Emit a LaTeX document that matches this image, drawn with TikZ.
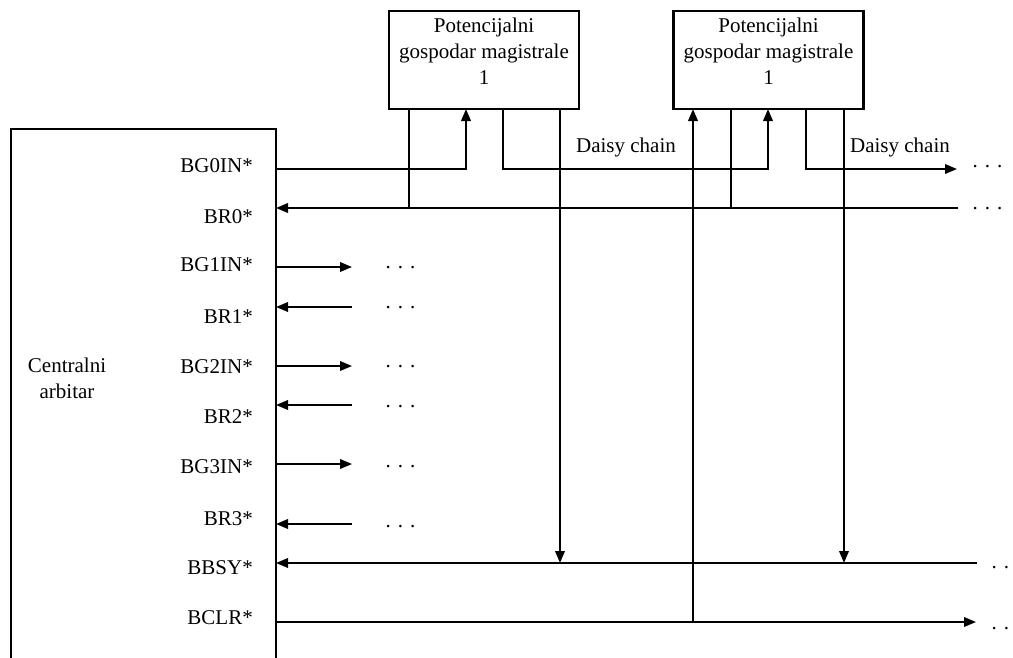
\documentclass[tikz,border=0pt]{standalone}
\usepackage{fontspec}
\setmainfont{Liberation Serif}
\usetikzlibrary{arrows.meta}
\begin{document}
\begin{tikzpicture}[x=1pt,y=-1pt,
  txt/.style={font=\fontsize{21}{26}\selectfont, inner sep=0pt},
  unit/.style={draw, line width=2.8pt, minimum width=190pt, minimum height=98pt, inner sep=0pt},
  wire/.style={line width=2pt},
  arr/.style={wire, -{Triangle[length=12pt,width=9.5pt]}},
  pin/.style={txt, anchor=base east},
  more/.style={txt, anchor=base west},
]
\useasboundingbox (0,0) rectangle (1013,657);

% central arbiter
\node[draw, line width=2.8pt, minimum width=265pt, minimum height=560pt, inner sep=0pt] (arb) at (143.5,409) {};
\node[txt, align=center, anchor=north] (arbt) at (67,358) {Centralni\\arbitar};

% potential bus masters
\node[unit] (p1) at (484,60) {};
\node[unit] (p2) at (768.5,60) {};
\node[txt, align=center, anchor=north] (p1t) at ([yshift=-8pt]p1.north) {Potencijalni\\gospodar magistrale\\1};
\node[txt, align=center, anchor=north] (p2t) at ([yshift=-8pt]p2.north) {Potencijalni\\gospodar magistrale\\1};

% master pins (bottom edges)
\coordinate (p1a) at (409,109);
\coordinate (p1b) at (466,109);
\coordinate (p1c) at (503,109);
\coordinate (p1d) at (560,109);
\coordinate (p2a) at (693,109);
\coordinate (p2b) at (731,109);
\coordinate (p2c) at (768,109);
\coordinate (p2d) at (806,109);
\coordinate (p2e) at (844,109);

% arbiter pins
\coordinate (bg0) at (276,169);
\coordinate (br0) at (276,208);
\coordinate (bg1) at (276,267);
\coordinate (br1) at (276,307);
\coordinate (bg2) at (276,366);
\coordinate (br2) at (276,405);
\coordinate (bg3) at (276,464);
\coordinate (br3) at (276,524);
\coordinate (bbsy) at (276,563);
\coordinate (bclr) at (276,622);

\node[pin] (lbg0) at (253,172) {BG0IN*};
\node[pin] (lbr0) at (253,223) {BR0*};
\node[pin] (lbg1) at (253,271) {BG1IN*};
\node[pin] (lbr1) at (253,323) {BR1*};
\node[pin] (lbg2) at (253,373) {BG2IN*};
\node[pin] (lbr2) at (253,423) {BR2*};
\node[pin] (lbg3) at (253,473) {BG3IN*};
\node[pin] (lbr3) at (253,525) {BR3*};
\node[pin] (lbbsy) at (253,574) {BBSY*};
\node[pin] (lbclr) at (253,624) {BCLR*};

% free line ends
\coordinate (dcend) at (957,169);
\coordinate (br0end) at (958,208);
\coordinate (bbsyend) at (977,563);
\coordinate (bclrend) at (976,622);
\coordinate (bg1end) at (352,267);
\coordinate (br1end) at (352,307);
\coordinate (bg2end) at (352,366);
\coordinate (br2end) at (352,405);
\coordinate (bg3end) at (352,464);
\coordinate (br3end) at (352,524);

% grant daisy chain
\draw[arr] (bg0) -| (p1b);
\draw[arr] (p1c) |- (bg0 -| p2c) -- (p2c);
\draw[arr] (p2d) |- (dcend);
\node[txt, anchor=base] (dc1) at (626,152) {Daisy chain};
\node[txt, anchor=base] (dc2) at (900,152) {Daisy chain};

% request line 0
\draw[arr] (br0end) -- (br0);
\draw[wire] (p1a) -- (p1a |- br0);
\draw[wire] (p2b) -- (p2b |- br0);

% bus busy
\draw[arr] (bbsyend) -- (bbsy);
\draw[arr] (p1d) -- (p1d |- bbsy);
\draw[arr] (p2e) -- (p2e |- bbsy);

% bus clear
\draw[arr] (bclr) -- (bclrend);
\draw[arr] (p2a |- bclr) -- (p2a);

% other priority levels
\draw[arr] (bg1) -- (bg1end);
\draw[arr] (br1end) -- (br1);
\draw[arr] (bg2) -- (bg2end);
\draw[arr] (br2end) -- (br2);
\draw[arr] (bg3) -- (bg3end);
\draw[arr] (br3end) -- (br3);

% continuation marks
\node[more] (m0) at (972.4,167) {. . .};
\node[more] (m1) at (972.4,209.5) {. . .};
\node[more] (m2) at (385.4,268.5) {. . .};
\node[more] (m3) at (385.4,308) {. . .};
\node[more] (m4) at (385.4,367.5) {. . .};
\node[more] (m5) at (385.4,407) {. . .};
\node[more] (m6) at (385.4,467) {. . .};
\node[more] (m7) at (385.4,527) {. . .};
\node[more] (m8) at (991.4,568) {. .};
\node[more] (m9) at (991.4,629) {. .};
\end{tikzpicture}
\end{document}
